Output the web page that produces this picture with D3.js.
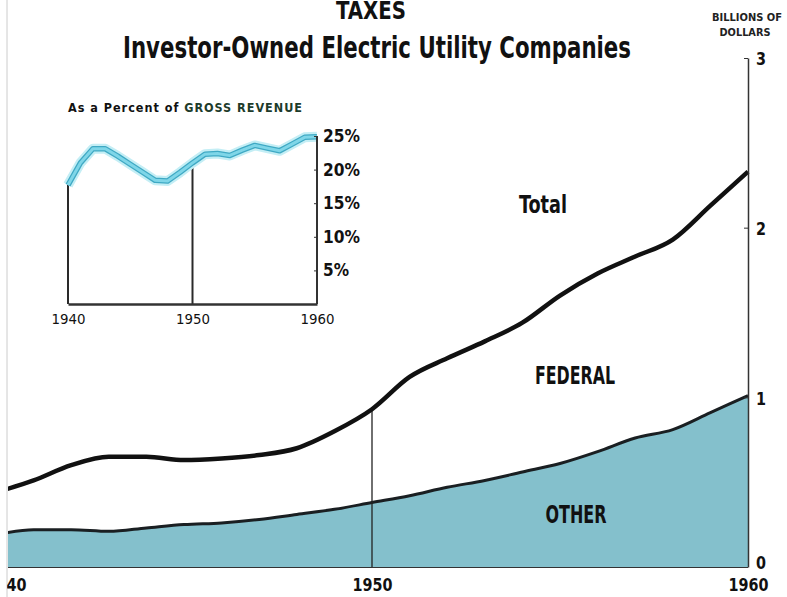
<!DOCTYPE html>
<html>
<head>
<meta charset="utf-8">
<script src="https://cdn.jsdelivr.net/npm/d3@7"></script>
<style>
  body { margin: 0; background: #fff; }
  svg { display: block; }
  .nar { font-family: "Liberation Sans Narrow", "DejaVu Sans Condensed", "Roboto Condensed", sans-serif; font-weight: bold; }
  .axis path, .axis line { stroke: #333; }
</style>
</head>
<body>
<svg id="chart" width="787" height="597"></svg>
<script>
// years shared by both panels
var years = d3.range(1940, 1961);

// main chart, billions of dollars
var totalTaxes = [0.44, 0.51, 0.60, 0.65, 0.65, 0.63, 0.64, 0.66, 0.70, 0.80, 0.93,
                  1.12, 1.23, 1.33, 1.44, 1.60, 1.73, 1.83, 1.93, 2.13, 2.33];
var otherTaxes = [0.19, 0.22, 0.22, 0.21, 0.23, 0.25, 0.26, 0.28, 0.31, 0.34, 0.38,
                  0.42, 0.47, 0.51, 0.56, 0.61, 0.68, 0.76, 0.81, 0.91, 1.01];

// inset, percent of gross revenue
var pctRevenue = [17.7, 21.0, 23.1, 23.1, 22.0, 20.8, 19.6, 18.4, 18.3, 19.6, 21.0,
                  22.3, 22.4, 22.1, 22.9, 23.6, 23.2, 22.8, 23.8, 24.8, 24.9];

var mainYTicks = [0, 1, 2, 3];
var xTickYears = [1940, 1950, 1960];
var insetYTicks = [5, 10, 15, 20, 25];

var svg = d3.select("#chart");

var rows = years.map(function(y, i) {
    return {year: y, total: totalTaxes[i], other: otherTaxes[i], pct: pctRevenue[i]};
});

// narrow bold text, squeezed to the width it has in the print
function label(parent, x, y, size, width, txt) {
    return parent.append("text").attr("class", "nar")
        .attr("x", x).attr("y", y).attr("text-anchor", "middle")
        .attr("font-size", size)
        .attr("textLength", width).attr("lengthAdjust", "spacingAndGlyphs")
        .attr("fill", "#111")
        .text(txt);
}

// ---- titles
label(svg, 371, 19, 24, 70, "TAXES");
label(svg, 377, 58, 30, 508, "Investor-Owned Electric Utility Companies");
label(svg, 747, 21, 11, 70, "BILLIONS OF").attr("fill", "#222");
label(svg, 745, 36, 11, 51, "DOLLARS").attr("fill", "#222");

// ---- main chart
var x = d3.scaleLinear().domain([1940, 1960]).range([-4, 748]);
var y = d3.scaleLinear().domain([0, 3]).range([567, 58]);

svg.append("clipPath").attr("id", "plotclip")
    .append("rect").attr("x", 8).attr("y", 0).attr("width", 742).attr("height", 568);

var plot = svg.append("g").attr("clip-path", "url(#plotclip)");

var area = d3.area()
    .x(function(d) { return x(d.year); })
    .y0(y(0))
    .y1(function(d) { return y(d.other); })
    .curve(d3.curveMonotoneX);

var lineOther = d3.line()
    .x(function(d) { return x(d.year); })
    .y(function(d) { return y(d.other); })
    .curve(d3.curveMonotoneX);

var lineTotal = d3.line()
    .x(function(d) { return x(d.year); })
    .y(function(d) { return y(d.total); })
    .curve(d3.curveMonotoneX);

plot.append("path").datum(rows)
    .attr("d", area)
    .attr("fill", "#84c0cc");

plot.append("path").datum(rows)
    .attr("d", lineOther)
    .attr("fill", "none").attr("stroke", "#1a1f22").attr("stroke-width", 3);

// 1950 drop line
var r1950 = rows[10];
plot.append("line")
    .attr("x1", x(1950)).attr("x2", x(1950))
    .attr("y1", y(r1950.total)).attr("y2", y(0))
    .attr("stroke", "#222").attr("stroke-width", 1.3);

plot.append("path").datum(rows)
    .attr("d", lineTotal)
    .attr("fill", "none").attr("stroke", "#111").attr("stroke-width", 4.5)
    .attr("stroke-linejoin", "round");

// page edge on the left
svg.append("line")
    .attr("x1", 7).attr("x2", 7).attr("y1", 0).attr("y2", 597)
    .attr("stroke", "#ccc").attr("stroke-width", 1);

// right value axis
var yAxis = d3.axisLeft(y)
    .tickValues(mainYTicks)
    .tickSize(4)
    .tickSizeOuter(0)
    .tickFormat(d3.format("d"));

var gy = svg.append("g")
    .attr("class", "axis nar")
    .attr("transform", "translate(" + x(1960) + ",0)")
    .call(yAxis);
gy.select(".domain").attr("stroke", "#444").attr("stroke-width", 1.5);
gy.selectAll(".tick text")
    .attr("x", 8).attr("text-anchor", "start")
    .attr("dy", function(d) { return d === 0 ? "0.1em" : "0.4em"; })
    .attr("font-size", 17).attr("fill", "#111")
    .attr("font-family", null)
    .attr("textLength", 10).attr("lengthAdjust", "spacingAndGlyphs");

// bottom axis
var xAxis = d3.axisBottom(x)
    .tickValues(xTickYears)
    .tickSize(0)
    .tickPadding(12)
    .tickFormat(d3.format("d"));

var gx = svg.append("g")
    .attr("class", "axis nar")
    .attr("transform", "translate(0," + y(0) + ")")
    .call(xAxis);
gx.select(".domain").remove();
gx.append("line")
    .attr("x1", 8).attr("x2", x(1960))
    .attr("stroke", "#3a3a3a").attr("stroke-width", 2.2);
gx.selectAll(".tick text")
    .attr("font-size", 17).attr("fill", "#111").attr("font-family", null)
    .attr("textLength", 40).attr("lengthAdjust", "spacingAndGlyphs")
    .attr("dx", function(d) { return d === 1940 ? 10 : 0; });

svg.append("clipPath").attr("id", "pageclip")
    .append("rect").attr("x", 7).attr("y", 0).attr("width", 780).attr("height", 597);
gx.attr("clip-path", "url(#pageclip)");

// series labels
label(svg, 543, 213, 24, 48, "Total");
label(svg, 575, 384, 24, 80, "FEDERAL");
label(svg, 576, 523, 24, 61, "OTHER");

// ---- inset: percent of gross revenue
var xi = d3.scaleLinear().domain([1940, 1960]).range([68, 317]);
var yi = d3.scaleLinear().domain([0, 25]).range([304, 136]);

var inset = svg.append("g");

var insetTitle = inset.append("text").attr("class", "nar")
    .attr("x", 68).attr("y", 112)
    .attr("font-size", 12.5).attr("textLength", 234).attr("lengthAdjust", "spacing")
    .attr("fill", "#111");
insetTitle.append("tspan").text("As a Percent of ");
insetTitle.append("tspan").attr("fill", "#1d3b2a").text("GROSS REVENUE");

var first = rows[0];
inset.append("line")
    .attr("x1", xi(1940)).attr("x2", xi(1940))
    .attr("y1", yi(first.pct)).attr("y2", yi(0))
    .attr("stroke", "#2a2a2a").attr("stroke-width", 2);
inset.append("line")
    .attr("x1", xi(1950)).attr("x2", xi(1950))
    .attr("y1", yi(r1950.pct)).attr("y2", yi(0))
    .attr("stroke", "#2a2a2a").attr("stroke-width", 2);

var lineInset = d3.line()
    .x(function(d) { return xi(d.year); })
    .y(function(d) { return yi(d.pct); });

inset.append("path").datum(rows)
    .attr("d", lineInset)
    .attr("fill", "none").attr("stroke", "#c4eef5").attr("stroke-width", 10)
    .attr("stroke-linejoin", "round");
inset.append("path").datum(rows)
    .attr("d", lineInset)
    .attr("fill", "none").attr("stroke", "#3fa9c4").attr("stroke-width", 5.5)
    .attr("stroke-linejoin", "round");
inset.append("path").datum(rows)
    .attr("d", lineInset)
    .attr("fill", "none").attr("stroke", "#7fd6e8").attr("stroke-width", 3)
    .attr("stroke-linejoin", "round");

var yiAxis = d3.axisLeft(yi)
    .tickValues(insetYTicks)
    .tickSize(3)
    .tickSizeOuter(0)
    .tickFormat(function(d) { return d + "%"; });

var giy = inset.append("g")
    .attr("class", "axis nar")
    .attr("transform", "translate(" + xi(1960) + ",0)")
    .call(yiAxis);
giy.select(".domain").attr("d", "M0," + yi(25) + "V" + yi(0))
    .attr("stroke", "#3b3150").attr("stroke-width", 2);
giy.selectAll(".tick line").attr("stroke", "#3b3150");
giy.selectAll(".tick text")
    .attr("x", 6).attr("text-anchor", "start")
    .attr("font-size", 17).attr("fill", "#111").attr("font-family", null)
    .attr("textLength", function(d) { return d < 10 ? 26 : 37; })
    .attr("lengthAdjust", "spacingAndGlyphs");

var xiAxis = d3.axisBottom(xi)
    .tickValues(xTickYears)
    .tickSize(0)
    .tickPadding(10)
    .tickFormat(d3.format("d"));

var gix = inset.append("g")
    .attr("class", "axis")
    .attr("transform", "translate(0," + yi(0) + ")")
    .call(xiAxis);
gix.select(".domain").attr("stroke", "#2a2a2a").attr("stroke-width", 2.5);
gix.selectAll(".tick text")
    .attr("font-family", "'Liberation Sans Narrow', 'DejaVu Sans Condensed', sans-serif")
    .attr("font-size", 14).attr("fill", "#111")
    .attr("textLength", 34).attr("lengthAdjust", "spacingAndGlyphs");
</script>
</body>
</html>
